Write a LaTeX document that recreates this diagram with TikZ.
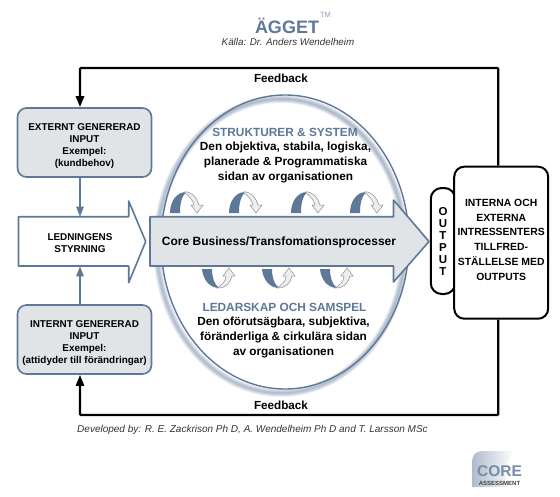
\documentclass[tikz,border=0pt]{standalone}
\usepackage{fontspec}
\setmainfont{Liberation Sans}
\usepackage{xcolor}
\usepackage{tikz}
\usetikzlibrary{arrows.meta,positioning}
\definecolor{steel}{RGB}{94,120,152}
\definecolor{pale}{RGB}{224,228,230}
\definecolor{mist}{RGB}{236,239,240}
\newcommand{\fs}[1]{\fontsize{#1}{#1}\selectfont}
\tikzset{
  inbox/.style={draw=steel, line width=1.6pt, fill=pale, rounded corners=9pt, minimum width=134pt, minimum height=69pt, align=center, font=\fs{9.9}\bfseries},
  blackbox/.style={draw=black, line width=2pt, fill=white, align=center},
  fblink/.style={line width=2.4pt, -{Triangle[length=11pt,width=8pt]}},
  inlink/.style={draw=steel, line width=1.6pt, -{Triangle[length=10pt,width=7.5pt]}},
  swirlup/.pic={
    \fill[steel] (1,0) .. controls (1,-12) and (8,-21) .. (17,-21) .. controls (12,-16) and (11,-8) .. (11,0) -- cycle;
    \draw[black!45, fill=mist, line width=0.5pt] (15,-21) .. controls (23,-22) and (28,-15) .. (30,-8) -- (34,-8) -- (28,0) -- (22,-8) -- (25,-8) .. controls (24,-13) and (20,-17) .. (15,-21) -- cycle;
  },
  swirldown/.pic={
    \fill[steel] (0,1) .. controls (1,12) and (8,20) .. (17,20) .. controls (12,16) and (10,9) .. (10,1) -- cycle;
    \draw[black!45, fill=mist, line width=0.5pt] (15,20) .. controls (22,21) and (28,16) .. (30,8) -- (33,8) -- (27,0) -- (21,8) -- (24,8) .. controls (24,13) and (20,17) .. (15,20) -- cycle;
  },
}
\begin{document}
\begin{tikzpicture}[x=1pt, y=-1pt]
  \useasboundingbox (0,0) rectangle (560,496);
  % title
  \node[font=\fs{18}\bfseries, text=steel, inner sep=0pt] (title) at (287,26) {ÄGGET};
  \node[font=\fs{7.5}, text=steel!70, inner sep=0pt] (tm) at (325.5,15) {TM};
  \node[font=\fs{9.8}\itshape, text=black!80, inner sep=0pt] (source) at (288,41.5) {Källa: Dr. Anders Wendelheim};
  % egg, the shadow follows the outline only
  \fill[white] (285,242) ellipse (124 and 147);
  \foreach \w in {8,7,...,1}
    \draw[steel, opacity=0.08, line width=\w pt] (281,246) ellipse (124 and 147);
  \draw[steel, line width=1.4pt] (285,242) ellipse (124 and 147);
  \node[font=\fs{11.85}\bfseries, text=steel, inner sep=0pt] (struct) at (285,132) {STRUKTURER \& SYSTEM};
  \node[font=\fs{11.8}\bfseries, align=center, inner sep=0pt] (structtxt) at (285.5,162.5) {Den objektiva, stabila, logiska,\\[2.9pt]planerade \& Programmatiska\\[2.9pt]sidan av organisationen};
  \node[font=\fs{11.85}\bfseries, text=steel, inner sep=0pt] (lead) at (284.5,307.5) {LEDARSKAP OCH SAMSPEL};
  \node[font=\fs{11.8}\bfseries, align=center, inner sep=0pt] (leadtxt) at (283.5,337.5) {Den oförutsägbara, subjektiva,\\[2.9pt]föränderliga \& cirkulära sidan\\[2.9pt]av organisationen};
  % swirls over and under the main arrow
  \foreach \x in {169,228,290,349}
    \pic at (\x,213) {swirlup};
  \foreach \x in {202,262,320}
    \pic at (\x,268) {swirldown};
  % inputs
  \node[inbox] (extern) at (84.5,142.5) {\rule{0pt}{14pt}EXTERNT GENERERAD\\[2.1pt]INPUT\\[2.1pt]Exempel:\\[2.1pt](kundbehov)};
  \node[inbox] (intern) at (84.5,339.5) {\rule{0pt}{14pt}INTERNT GENERERAD\\[2.1pt]INPUT\\[2.1pt]Exempel:\\[2.1pt](attidyder till förändringar)};
  % ledning arrow
  \draw[steel, line width=1.6pt, fill=white, line join=round] (18.5,216.7) -- (128.7,216.7) -- (128.7,201) -- (145.7,241.5) -- (128.7,282.7) -- (128.7,266) -- (18.5,266) -- cycle;
  \node[font=\fs{9.9}\bfseries, align=center, inner sep=0pt, minimum height=49.3pt] (ledn) at (80,241.5) {\rule{0pt}{11pt}LEDNINGENS\\[2.1pt]STYRNING};
  \draw[inlink] (extern.south -| ledn.north) -- (ledn.north);
  \draw[inlink] (intern.north -| ledn.south) -- (ledn.south);
  % core arrow
  \draw[steel, line width=1.6pt, fill=pale, line join=round] (150,216.7) -- (393.5,216.7) -- (393.5,200) -- (429,241.5) -- (393.5,282) -- (393.5,266) -- (150,266) -- cycle;
  \node[font=\fs{12}\bfseries, inner sep=0pt] (core) at (279,242) {Core Business/Transfomationsprocesser};
  % output side
  \node[blackbox, rounded corners=11pt, minimum width=24.5pt, minimum height=106pt, font=\fs{11.5}\bfseries] (output) at (443,241) {O\\[0.5pt]U\\[0.5pt]T\\[0.5pt]P\\[0.5pt]U\\[0.5pt]T};
  \node[blackbox, rounded corners=10pt, minimum width=91pt, minimum height=152pt, font=\fs{10.4}\bfseries] (recv) at (501.2,242.7) {INTERNA OCH\\[4.3pt]EXTERNA\\[4.3pt]INTRESSENTERS\\[4.3pt]TILLFRED-\\[4.3pt]STÄLLELSE MED\\[4.3pt]OUTPUTS\rule[-6pt]{0pt}{6pt}};
  % feedback
  \coordinate (fbtop) at (80,68);
  \coordinate (fbbot) at (80,415);
  \draw[fblink, rounded corners=1pt] ([xshift=-3pt]recv.north) |- (fbtop) -- (extern.north -| ledn.north);
  \draw[fblink, rounded corners=1pt] ([xshift=-3pt]recv.south) |- (fbbot) -- (intern.south -| ledn.south);
  \node[font=\fs{11.7}\bfseries, inner sep=0pt] (fbone) at (281,78) {Feedback};
  \node[font=\fs{11.7}\bfseries, inner sep=0pt] (fbtwo) at (281,405.5) {Feedback};
  \node[font=\fs{10}\itshape, text=black!80, inner sep=0pt] (dev) at (252.5,429.5) {Developed by: R. E. Zackrison Ph D, A. Wendelheim Ph D and T. Larsson MSc};
  % logo
  \shade[left color=steel!50, right color=white] (472,487) -- (472,462) .. controls (472,455) and (476,451) .. (483,451) -- (514,451) .. controls (506,460) and (504,475) .. (507,487) -- cycle;
  \node[font=\fs{15.5}\bfseries, text=steel!85, inner sep=0pt] (logocore) at (499.5,471) {CORE};
  \node[font=\fs{6}\bfseries, text=black!75, inner sep=0pt] (logosub) at (499.5,483) {ASSESSMENT};
\end{tikzpicture}
\end{document}
